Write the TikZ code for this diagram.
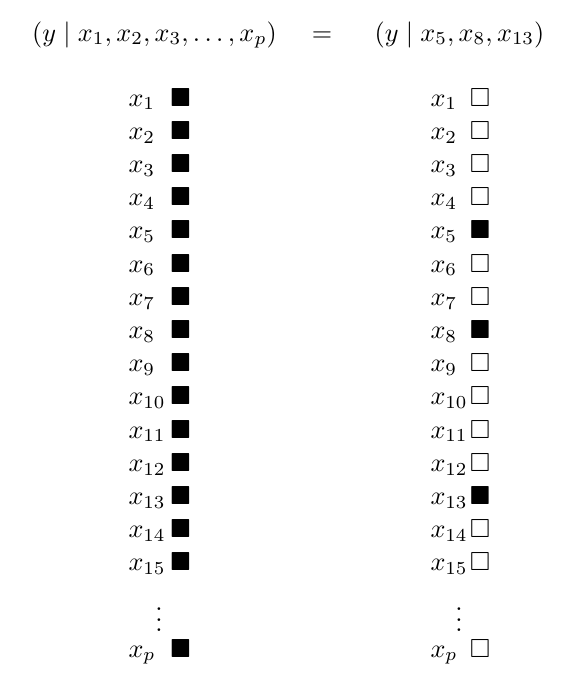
\documentclass[tikz,border=0pt]{standalone}
\usepackage{amsmath}
\usepackage{amsfonts}
\usepackage{amssymb}
\usepackage{tikz}

\begin{document}
\begin{tikzpicture}[x=0.382pt,y=-0.382pt]
\useasboundingbox (0,0) rectangle (580,688);
%% header
\node[anchor=base] (lhs) at (154.5,41) {$(y \mid x_1, x_2, x_3, \ldots, x_p)$};
\node[anchor=base] (eq) at (322,41) {$=$};
\node[anchor=base] (rhs) at (459.5,41) {$(y \mid x_5, x_8, x_{13})$};
%% left column: all selected
\foreach \i in {1,...,15}{
  \node[anchor=base west,inner sep=0pt] (lx\i) at (128,{106+(\i-1)*33.2}) {$x_{\i}$};
  \node[anchor=base,inner sep=0pt] (lb\i) at (180.5,{106+(\i-1)*33.2}) {$\blacksquare$};
}
%% right column: only x5, x8, x13
\foreach \i/\m in {1/\square,2/\square,3/\square,4/\square,5/\blacksquare,6/\square,7/\square,8/\blacksquare,
  9/\square,10/\square,11/\square,12/\square,13/\blacksquare,14/\square,15/\square}{
  \node[anchor=base west,inner sep=0pt] (rx\i) at (430,{106+(\i-1)*33.2}) {$x_{\i}$};
  \node[anchor=base,inner sep=0pt] (rb\i) at (480,{106+(\i-1)*33.2}) {$\m$};
}
%% dots and last row
\node (ldots) at (159,612) {$\vdots$};
\node (rdots) at (459,612) {$\vdots$};
\node[anchor=base west,inner sep=0pt] (lxp) at (128,657) {$x_p$};
\node[anchor=base,inner sep=0pt] (lbp) at (180.5,657) {$\blacksquare$};
\node[anchor=base west,inner sep=0pt] (rxp) at (430,657) {$x_p$};
\node[anchor=base,inner sep=0pt] (rbp) at (480,657) {$\square$};
\end{tikzpicture}
\end{document}
